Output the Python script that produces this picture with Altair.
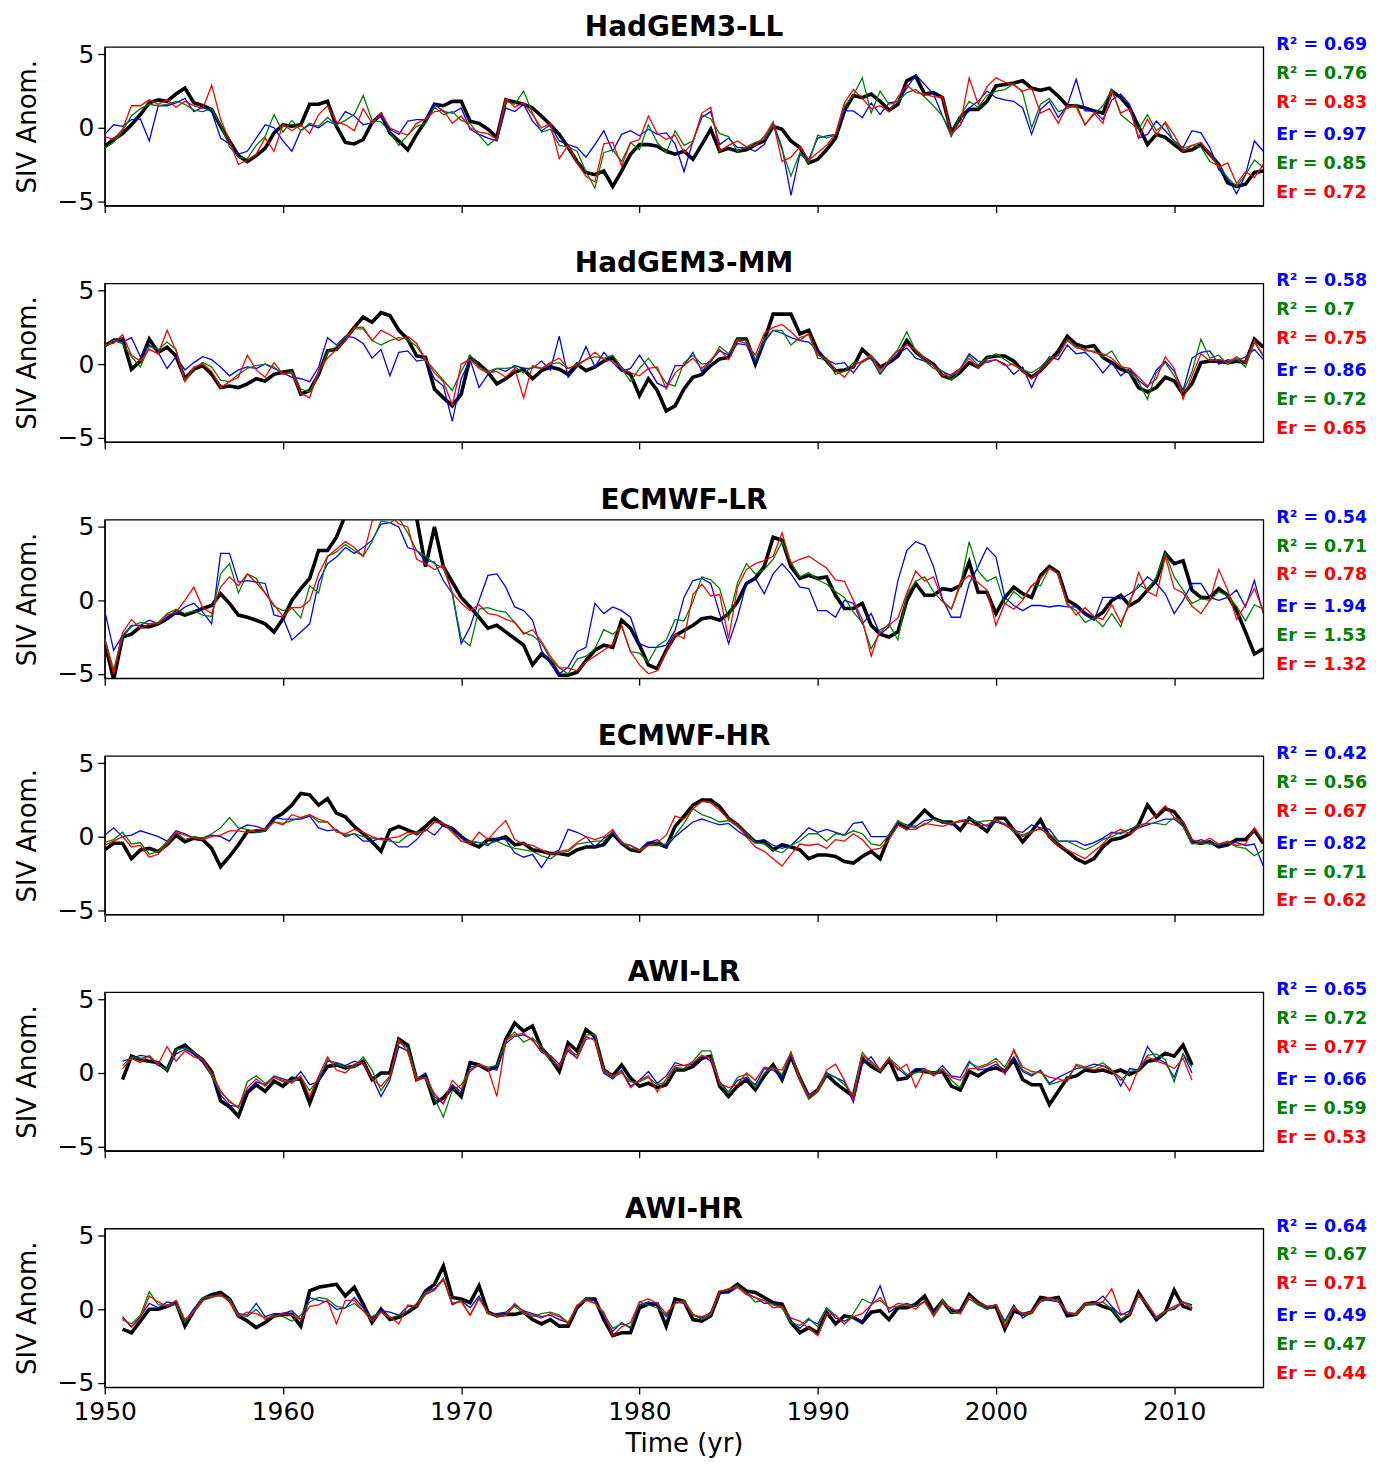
import sys
import altair as alt
import pandas as pd

FONT = "DejaVu Sans"

TITLES = ["HadGEM3-LL", "HadGEM3-MM", "ECMWF-LR", "ECMWF-HR", "AWI-LR", "AWI-HR"]
STARTS = [1950.0, 1950.0, 1950.0, 1950.0, 1951.0, 1951.0]
STEP = 0.5
XTICKS = [1950, 1960, 1970, 1980, 1990, 2000, 2010]
YTICKS = [-5, 0, 5]

R2_BLUE = [0.69, 0.58, 0.54, 0.42, 0.65, 0.64]
R2_GREEN = [0.76, 0.7, 0.71, 0.56, 0.72, 0.67]
R2_RED = [0.83, 0.75, 0.78, 0.67, 0.77, 0.71]
ER_BLUE = [0.97, 0.86, 1.94, 0.82, 0.66, 0.49]
ER_GREEN = [0.85, 0.72, 1.53, 0.71, 0.59, 0.47]
ER_RED = [0.72, 0.65, 1.32, 0.62, 0.53, 0.44]

# ---------------- HadGEM3-LL ----------------
P1_OBS = [
    -1.25, -0.8, -0.4, 0.2, 0.9, 1.7, 1.9, 1.8, 2.3, 2.7,
    1.7, 1.5, 1.25, 0.1, -0.9, -1.9, -2.3, -1.9, -1.4, -0.35,
    0.2, 0.1, 0.2, 1.6, 1.6, 1.8, 0.1, -1.0, -1.1, -0.8,
    0.35, 0.9, -0.35, -0.9, -1.5, -0.45, 0.45, 1.6, 1.5, 1.8,
    1.8, 0.45, 0.3, -0.1, -0.65, 1.9, 1.75, 1.6, 1.35, 0.8,
    0.2, -0.45, -1.35, -2.3, -3.05, -3.2, -2.95, -4.0, -2.95, -1.8,
    -1.15, -1.15, -1.25, -1.6, -1.8, -1.6, -2.15, -1.15, -0.1, -1.6,
    -1.4, -1.6, -1.5, -1.15, -0.9, 0.1, -0.1, -0.9, -1.35, -2.4,
    -2.15, -1.5, -0.7, 1.15, 2.2, 2.05, 2.3, 1.8, 1.2, 1.6,
    3.2, 3.5, 2.3, 2.4, 2.05, -0.35, 0.7, 1.25, 1.25, 1.8,
    2.85, 2.95, 3.05, 3.2, 2.7, 2.55, 2.7, 2.15, 1.5, 1.5,
    1.35, 1.15, 1.0, 2.5, 2.05, 1.35, 0.1, -1.15, -0.45, -0.65,
    -1.15, -1.6, -1.5, -1.15, -1.8, -2.5, -3.75, -4.0, -3.85, -3.05,
    -2.95]
P1_BLUE = [
    -0.45, 0.2, 0.1, 0.55, 0.6, -0.9, 1.5, 1.5, 1.7, 2.0,
    1.1, 1.4, 1.1, -0.7, -1.1, -1.8, -1.6, -0.7, 0.2, 0.0,
    -0.9, -1.6, -0.2, 0.2, 0.0, 0.45, 0.2, 1.1, 0.8, 0.2,
    0.35, 0.8, -0.1, -0.45, 0.45, 0.55, 0.55, 1.6, 1.1, 1.0,
    1.35, -0.1, -0.45, -0.7, -0.9, 1.35, 1.1, 1.6, 0.45, -0.2,
    0.2, -0.9, -1.15, -1.35, -2.0, -1.15, -0.2, -1.6, -0.45, -0.2,
    -0.55, -0.1, -0.45, -0.35, -1.1, -3.0, -0.9, 0.7, 1.1, -1.15,
    -0.7, -1.35, -1.35, -1.6, -1.15, 0.35, -1.35, -4.6, -1.8, -2.15,
    -0.7, -0.55, -0.45, 1.15, 1.15, 0.7, 1.7, 0.9, 1.7, 1.8,
    2.7, 3.6, 2.95, 2.3, 0.8, -0.45, 0.2, 1.35, 1.8, 2.5,
    2.05, 1.9, 1.8, 1.35, -0.45, 1.25, 1.8, 0.7, 1.5, 3.3,
    1.15, 1.15, 0.55, 1.9, 2.3, 1.6, -0.7, -0.45, 0.45, -0.2,
    -0.9, -1.35, -0.2, -0.35, -1.35, -2.85, -3.4, -4.5, -3.2, -0.9,
    -1.6]
P1_GREEN = [
    -1.4, -1.0, -0.2, 0.8, 1.3, 1.6, 1.5, 1.6, 1.8, 1.6,
    1.2, 1.1, 1.3, 0.2, -1.3, -2.0, -2.1, -1.2, -0.6, 0.9,
    -0.3, 0.5, -0.2, 0.3, 0.1, 0.7, 0.2, 0.5, 0.9, 2.2,
    0.5, 0.4, -0.3, -1.2, -0.5, 0.1, 0.3, 1.4, 0.9, 1.1,
    0.5, 0.3, -0.5, -1.2, -0.7, 1.8, 1.6, 2.5, 1.0, -0.3,
    -0.1, -1.2, -1.3, -1.6, -3.0, -4.1, -1.7, -1.5, -2.3, -1.0,
    -1.5, 0.2, -1.0, -1.7, -0.2, -1.2, -0.9, 0.9, 0.6, -0.4,
    -0.6, -1.6, -1.3, -1.0, -0.8, 0.2, -1.5, -3.3, -1.7, -2.4,
    -0.5, -0.7, -0.5, 1.5, 2.2, 3.4, 1.0, 2.5, 1.6, 1.8,
    2.4, 2.6, 2.1, 1.5, 0.8, -0.6, 0.8, 1.8, 1.4, 2.2,
    2.5, 2.6, 3.0, 2.4, 0.0, 1.6, 2.0, 1.1, 1.3, 1.6,
    0.2, 0.9, 1.5, 2.6, 0.9, 0.4, -0.1, 0.9, -0.2, 0.3,
    -1.0, -1.4, -1.2, -1.3, -2.3, -2.6, -3.4, -4.0, -3.2, -2.2,
    -2.7]
P1_RED = [
    -0.6, -0.8, -0.1, 1.5, 1.5, 1.9, 1.6, 1.9, 1.4, 1.8,
    1.5, 1.3, 2.9, 0.6, -0.9, -2.5, -2.2, -1.8, -0.7, -1.6,
    0.2, -0.2, 0.2, -0.4, 0.9, 1.5, 0.4, 0.2, -0.2, 1.3,
    0.3, 1.0, 0.0, -0.3, -0.5, 0.3, 0.6, 1.1, 1.2, 0.3,
    0.8, 0.0, -0.3, -0.4, -0.8, 2.0, 1.4, 1.7, 0.9, 0.0,
    0.3, -2.1, -1.2, -2.4, -3.3, -3.7, -1.1, -1.0, -2.6, -1.0,
    -0.8, 0.8, -0.4, -0.8, -0.5, -1.7, -1.0, 1.0, 1.4, -1.6,
    -1.2, -0.9, -1.3, -1.2, -0.6, 0.4, -2.3, -2.0, -1.3, -2.2,
    -1.7, -1.2, -0.4, 1.7, 2.6, 2.0, 1.3, 1.5, 1.1, 2.1,
    2.9, 2.4, 2.3, 2.1, 2.1, -0.4, 0.2, 3.4, 1.6, 2.8,
    3.4, 3.1, 2.9, 2.5, 2.7, 1.0, 1.3, 0.3, 1.5, 1.4,
    0.2, 1.0, 0.3, 2.5, 1.0, 1.3, -0.7, 0.6, -0.5, 0.4,
    -0.5, -1.6, -1.2, -1.0, -1.8, -2.7, -2.4, -3.8, -3.0, -3.4,
    -2.5]

# ---------------- HadGEM3-MM ----------------
P2_OBS = [
    1.25, 1.6, 1.7, -0.35, 0.2, 1.7, 0.8, 1.15, 0.55, -1.0,
    -0.35, -0.1, -0.7, -1.6, -1.5, -1.6, -1.35, -1.0, -1.15, -0.7,
    -0.55, -0.45, -2.05, -1.8, -0.7, 0.9, 1.0, 1.7, 2.5, 3.2,
    2.85, 3.5, 3.3, 2.3, 1.7, 0.55, 0.45, -1.7, -2.3, -2.85,
    -2.05, 0.45, 0.0, -0.55, -1.35, -1.0, -0.55, -0.35, -1.0, -0.45,
    -0.2, -0.35, -0.7, 0.0, -0.45, -0.2, 0.2, 0.45, -0.35, -0.7,
    -2.15, -1.0, -1.8, -3.2, -2.85, -1.7, -0.9, -0.7, -0.1, 0.35,
    0.45, 1.7, 1.7, 0.0, 1.6, 3.4, 3.4, 3.4, 2.05, 2.3,
    0.9, 0.2, -0.45, -0.4, -0.2, 1.0, 0.45, -0.2, 0.1, 0.55,
    1.6, 0.8, 0.35, 0.0, -0.8, -1.0, -0.55, 0.1, -0.2, 0.45,
    0.55, 0.55, 0.2, -0.45, -0.9, -0.45, 0.2, 0.9, 1.9, 1.35,
    1.15, 1.25, 0.45, 0.1, -0.35, -0.55, -1.6, -1.9, -1.6, -0.9,
    -1.15, -2.05, -1.35, 0.1, 0.2, 0.2, 0.1, 0.2, 0.1, 1.7,
    1.15]
P2_BLUE = [
    1.1, 1.7, 1.5, 1.8, 0.5, 1.3, 0.8, -0.3, 0.5, -0.4,
    0.1, 0.5, 0.3, -0.2, -0.8, -0.4, -0.2, -0.3, 0.0, -0.3,
    -0.6, -0.9, -1.0, -1.2, -0.2, 1.8, 1.3, 1.9, 1.8, 1.4,
    0.4, 1.0, -0.8, 0.8, 0.9, 0.2, 0.3, -1.0, -1.5, -3.9,
    -1.0, 0.3, -1.6, -0.7, -0.3, -0.5, -0.1, -0.3, -0.3, 0.2,
    -0.4, 1.9, -0.9, -0.2, 1.2, -0.2, 0.8, 0.1, -0.5, -0.3,
    0.6, -0.3, -1.3, -1.6, -0.1, -0.1, 0.8, -0.5, 0.2, 0.9,
    0.6, 1.4, 1.3, 0.1, 1.5, 2.3, 2.1, 1.8, 1.6, 1.5,
    0.9, 0.3, 0.0, 0.1, -0.6, 0.2, 0.4, -0.7, 0.1, 0.7,
    1.1, 0.4, 0.2, -0.1, -0.5, -0.8, -0.3, 0.7, 0.2, 0.1,
    0.3, 0.0, -0.7, -0.2, -1.6, -0.3, 0.5, 0.3, 1.3, 0.7,
    0.8, 0.2, -0.6, 0.1, -0.8, -0.3, -1.1, -1.6, -0.4, 0.2,
    -0.5, -1.8, 0.4, 0.8, 0.9, 0.0, 0.3, 0.2, 0.5, 1.0,
    0.3]
P2_GREEN = [
    1.2, 1.6, 1.4, 0.5, -0.2, 1.2, 1.0, 1.5, 1.0, -1.1,
    -0.3, 0.1, -0.2, -1.1, -1.2, -0.7, -0.3, -0.1, 0.0, -0.2,
    -0.7, -0.5, -1.7, -1.9, -0.6, 0.8, 1.2, 1.8, 2.4, 2.4,
    1.6, 1.3, 1.6, 1.8, 1.7, 1.2, 0.3, -0.4, -1.1, -1.8,
    -0.5, 0.6, -0.2, -0.5, -0.3, -0.3, -0.2, -0.6, -0.2, -0.3,
    0.0, 0.1, -0.3, 0.0, 0.3, 0.5, 0.4, 0.6, -0.3, -1.2,
    -0.3, 0.4, -0.4, -1.3, -1.5, 0.1, 0.6, 0.0, 0.1, 1.2,
    0.7, 1.7, 1.6, 0.3, 1.7, 2.3, 2.3, 1.3, 1.8, 2.0,
    0.4, 0.3, -0.7, -0.5, 0.1, 0.1, 0.5, -0.6, 0.3, 1.0,
    2.2, 0.9, 0.2, -0.3, -0.5, -1.1, -0.4, 0.6, -0.1, 0.4,
    0.7, 0.3, -0.1, -0.4, -0.6, -0.2, 0.4, 0.6, 1.7, 1.2,
    0.9, 0.9, 0.5, 0.9, -0.1, -0.6, -1.2, -2.4, -0.6, 0.1,
    -0.8, -1.9, -0.5, 1.7, 0.4, 0.6, 0.0, 0.4, -0.2, 1.5,
    0.5]
P2_RED = [
    1.3, 1.4, 2.0, 0.6, 0.2, 1.0, 0.7, 2.3, 0.9, -1.2,
    -0.2, 0.0, -0.5, -1.6, -1.2, -0.9, 0.6, -0.4, -0.9, 0.1,
    -0.7, -0.6, -2.0, -2.3, -0.4, 0.4, 1.0, 1.6, 2.5, 2.5,
    1.6, 2.3, 2.0, 1.6, 1.9, 1.4, 0.3, -0.6, -1.2, -2.8,
    0.0, 0.3, -0.3, -0.6, -0.5, -0.9, -0.3, -2.3, -0.1, -0.3,
    0.1, 0.4, -0.3, -0.1, 0.3, 0.8, 0.3, 0.2, -0.3, -0.6,
    -0.8, -0.3, -0.2, -1.7, -0.6, -0.1, 0.4, -0.3, 0.3, 1.0,
    0.3, 1.6, 1.4, 0.6, 2.1, 2.5, 2.7, 2.2, 1.6, 2.1,
    0.6, 0.4, -0.4, -0.9, -0.1, 0.2, 0.6, -0.4, 0.2, 0.9,
    1.3, 1.0, 0.4, -0.1, -0.8, -0.7, -0.3, 0.4, -0.3, 0.2,
    0.3, -0.1, 0.0, -0.5, -1.0, -0.4, 0.2, 0.6, 1.6, 1.1,
    1.0, 0.8, 0.7, 0.4, -0.2, -0.3, -0.9, -1.5, -1.0, 0.5,
    -0.3, -2.4, -0.8, 0.7, 0.2, 0.3, 0.1, 0.5, 0.1, 1.6,
    0.6]

# ---------------- ECMWF-LR ----------------
P3_OBS = [
    -2.85, -5.4, -2.5, -2.3, -1.8, -1.8, -1.6, -1.25, -0.8, -1.0,
    -0.8, -0.55, -0.35, 0.45, -0.2, -1.0, -1.15, -1.35, -1.6, -2.15,
    -1.25, 0.0, 0.8, 1.5, 3.4, 3.4, 4.3, 5.8, 6.0, 6.3,
    6.5, 6.4, 6.2, 6.3, 6.0, 5.6, 2.3, 5.0, 2.3, 1.25,
    0.2, -0.45, -1.15, -1.9, -1.7, -2.15, -2.6, -3.05, -4.4, -3.65,
    -4.1, -5.1, -5.1, -4.9, -4.1, -3.4, -3.05, -3.2, -1.35, -1.9,
    -3.05, -4.4, -4.65, -3.4, -2.4, -2.05, -1.7, -1.25, -1.15, -1.35,
    -0.9, -0.1, 1.15, 1.5, 2.3, 4.3, 4.1, 2.3, 1.5, 1.7,
    1.5, 1.6, 0.35, -0.55, -0.55, -0.2, -1.7, -2.3, -2.5, -2.15,
    0.0, 1.15, 0.35, 0.35, 0.8, 0.7, 1.0, 2.6, 0.55, 0.55,
    -0.9, 0.2, 0.9, 0.45, 0.2, 1.7, 2.3, 1.9, 0.0, -0.35,
    -0.9, -1.25, -0.8, 0.0, 0.35, -0.35, 0.0, 0.7, 1.35, 3.2,
    2.5, 2.7, 0.7, 0.2, 0.2, 0.8, 0.35, -0.7, -2.15, -3.65,
    -3.3]
P3_BLUE = [
    -0.7, -3.4, -2.4, -1.7, -1.7, -1.35, -1.6, -1.15, -0.9, -0.45,
    -0.2, -0.8, -1.6, 3.2, 3.2, 1.25, 1.35, 1.25, 1.15, -1.0,
    -1.15, -2.7, -2.15, -1.6, 1.25, 2.5, 2.95, 3.6, 3.2, 3.6,
    4.1, 5.2, 5.3, 5.0, 3.6, 3.4, 2.7, 2.6, 1.35, 0.45,
    -2.95, -1.8, 0.0, 1.7, 1.8, 0.9, -0.45, -0.7, -1.35, -3.4,
    -4.3, -5.0, -4.55, -3.5, -3.2, -0.2, -0.9, -0.45, -0.7, -1.15,
    -2.95, -3.2, -3.2, -3.05, -2.05, 0.2, 1.35, 1.5, 1.15, -0.9,
    -2.95, -1.15, 1.15, 1.5, 0.45, 1.8, 2.5, 1.8, 0.9, 0.8,
    -0.7, -0.7, -1.15, 0.0, -0.2, -1.6, -0.9, -2.3, -1.8, 1.35,
    3.4, 4.0, 3.75, 2.3, 0.1, -1.15, -1.15, 1.15, 2.3, 3.6,
    2.95, 0.2, -0.35, -0.7, -0.35, -0.35, -0.45, -0.35, -0.45, -0.45,
    -1.0, -1.35, 0.2, 0.2, 0.1, 0.45, 0.9, 1.6, 1.15, 0.45,
    -0.9, 0.0, 1.15, 1.15, 0.2, 0.0, 0.2, 0.7, -0.45, 1.35,
    -0.9]
P3_GREEN = [
    -2.6, -4.7, -2.5, -1.8, -1.5, -1.6, -1.5, -0.9, -0.6, -0.9,
    -0.7, -1.0, -1.1, 1.8, 2.5, 0.5, 1.8, 1.5, 0.5, -0.4,
    -0.7, -0.5, -1.2, 1.0, 0.5, 3.0, 3.3, 3.8, 3.4, 3.0,
    4.0, 5.4, 5.3, 5.6, 4.6, 3.4, 3.0, 2.5, 2.2, 0.5,
    -2.6, -3.1, -0.6, -0.5, -0.7, -0.8, -1.5, -2.2, -2.4, -2.9,
    -4.0, -4.6, -5.0, -4.0, -3.8, -3.3, -2.0, -2.3, -1.8, -3.5,
    -3.6, -4.2, -3.1, -2.7, -1.3, -1.4, -0.1, 1.6, 1.4, 0.8,
    -1.3, 1.2, 2.5, 1.8, 2.1, 2.8, 4.0, 2.6, 1.6, 1.9,
    1.4, 1.1, 0.6, 0.2, -0.8, -1.5, -3.3, -2.2, -1.6, -2.7,
    0.4, 1.3, 1.6, 0.6, -0.1, -0.6, 1.0, 4.0, 2.0, 1.3,
    1.6, -0.3, 0.6, 0.1, 1.0, 1.0, 2.2, 1.8, -0.3, -0.7,
    -1.5, -1.2, -1.8, -0.9, -1.8, 0.0, 1.1, 0.7, 1.6, 3.2,
    1.6, 0.7, -0.2, 0.1, 0.0, 0.6, 0.3, -0.4, -1.4, -0.3,
    -0.6]
P3_RED = [
    -2.7, -5.0, -2.2, -1.3, -1.9, -1.6, -1.6, -1.0, -0.8, 0.0,
    0.9, -0.5, -0.9, 0.9, 1.6, 1.0, 1.8, 1.2, 0.5, -0.3,
    -1.1, -0.5, -0.5, 0.0, 1.8, 3.0, 3.5, 4.0, 3.6, 3.0,
    5.4, 5.8, 5.8, 5.2, 5.0, 2.8, 2.5, 2.1, 2.4, 0.5,
    -0.2, -0.7, -0.3, -0.9, -1.0, -1.3, -1.5, -2.3, -2.0, -2.8,
    -3.8, -4.6, -4.6, -4.8, -4.2, -3.8, -3.4, -3.0, -1.7, -3.5,
    -4.4, -5.0, -4.8, -3.5, -2.3, -2.6, 0.4, 1.1, 0.3, 0.4,
    -2.6, 0.9, 2.1, 2.5, 2.7, 3.0, 4.6, 2.5, 2.8, 3.0,
    2.6, 2.2, 1.4, 1.3, 0.0, -1.3, -3.8, -2.0, -1.7, -1.2,
    0.5, 2.0, 1.3, 1.6, 0.0, -0.6, 1.2, 1.7, 1.2, 0.7,
    -1.7, -0.2, -0.6, 0.0, 1.0, 1.5, 2.2, 1.8, -0.2, -1.0,
    -0.5, -1.1, -1.3, -0.3, -1.5, -0.3, 1.9, 0.6, 0.3, 3.0,
    0.8, 0.5, -0.4, -0.9, 0.0, 2.1, 0.7, -1.3, -0.3, 0.8,
    -0.7]

# ---------------- ECMWF-HR ----------------
P4_OBS = [
    -0.9, -0.45, -0.45, -1.5, -0.9, -0.8, -1.0, -0.55, 0.1, -0.35,
    -0.1, -0.2, -0.8, -2.05, -1.35, -0.55, 0.35, 0.35, 0.45, 1.25,
    1.6, 2.15, 2.95, 2.85, 2.15, 2.6, 1.6, 1.35, 0.7, 0.2,
    -0.35, -1.0, 0.45, 0.7, 0.45, 0.2, 0.7, 1.25, 0.8, 0.55,
    0.0, -0.45, -0.7, -0.2, -0.2, 0.0, -0.55, -0.45, -0.9, -1.0,
    -1.15, -1.15, -1.25, -0.9, -0.7, -0.7, -0.55, 0.2, -0.45, -0.9,
    -1.0, -0.45, -0.45, -0.7, 0.7, 1.4, 2.15, 2.5, 2.5, 2.05,
    1.25, 0.8, 0.2, -0.35, -0.35, -0.9, -0.55, -0.7, -0.9, -1.5,
    -1.25, -1.25, -1.35, -1.7, -1.8, -1.35, -1.0, -1.5, 0.0, 0.9,
    0.55, 1.15, 1.8, 1.25, 1.0, 1.0, 0.45, 1.25, 0.8, 0.35,
    1.25, 1.25, 0.45, -0.35, 0.35, 1.15, 0.0, -0.55, -1.0, -1.5,
    -1.8, -1.5, -0.7, -0.2, -0.1, 0.2, 0.8, 2.15, 1.35, 1.9,
    1.7, 0.9, -0.35, -0.45, -0.35, -0.7, -0.55, -0.2, -0.2, 0.45,
    -0.45]
P4_BLUE = [
    0.1, 0.6, 0.0, 0.1, 0.4, 0.2, 0.0, -0.3, 0.4, 0.2,
    -0.1, -0.1, 0.1, 0.0, -0.3, 0.5, 0.8, 0.7, 0.5, 1.3,
    1.2, 1.2, 1.2, 1.4, 0.6, 0.4, 0.5, 0.0, 0.2, -0.3,
    -0.3, -0.1, -0.2, -0.7, -0.7, -0.2, 0.5, 0.1, 0.8, 0.6,
    0.0, -0.3, -0.4, -0.6, -0.1, -0.2, -1.1, -1.4, -1.2, -2.1,
    -1.2, -0.9, 0.5, 0.3, 0.0, -0.7, -0.1, 0.3, -0.5, -0.6,
    -0.9, -0.4, -0.2, -0.7, 0.0, 0.5, 1.0, 1.2, 1.0, 0.8,
    0.9, 0.4, 0.0, -0.3, -0.2, -0.6, -0.8, -0.6, 0.0, 0.6,
    0.3, 0.5, 0.3, 0.1, 0.9, 1.0, 0.0, 0.0, 0.0, 1.0,
    0.8, 0.7, 1.1, 1.2, 1.0, 0.8, 1.1, 1.2, 1.0, 0.7,
    1.0, 0.8, 0.4, 0.3, 0.8, 0.6, 0.5, -0.3, -0.3, -0.3,
    -0.6, -0.4, -0.1, 0.3, 0.2, 0.5, 0.6, 0.8, 1.0, 1.2,
    1.2, 0.7, -0.4, -0.2, -0.4, -0.6, -0.4, -0.4, -0.6, -0.5,
    -2.0]
P4_GREEN = [
    -0.4, -0.2, 0.3, -0.5, -0.4, -1.2, -1.0, -0.3, 0.3, -0.2,
    0.0, -0.1, 0.2, 0.6, 1.3, 0.6, 0.5, 0.3, 0.4, 1.0,
    0.9, 1.1, 1.3, 1.5, 1.0, 1.0, 0.4, 0.1, 0.2, 0.0,
    -0.1, -0.2, -0.3, -0.4, 0.1, 0.3, 0.4, 1.0, 0.9, 0.3,
    -0.3, -0.3, -0.4, -0.5, -0.3, -0.6, -0.8, -0.9, -1.0, -1.3,
    -1.5, -1.1, -1.0, -0.5, -0.4, -0.3, -0.3, 0.4, -0.4, -0.8,
    -0.9, -0.6, -0.6, -0.5, 0.1, 0.9, 1.9, 1.5, 1.3, 1.0,
    1.1, 0.7, 0.2, -0.4, -0.5, -0.9, -1.1, -0.6, -0.3, 0.2,
    0.2, -0.3, 0.2, 0.1, 0.4, 0.2, -0.5, -0.6, 0.1, 1.1,
    0.7, 0.6, 0.8, 1.2, 1.0, 0.9, 1.0, 1.2, 1.0, 1.1,
    1.1, 0.9, 0.3, 0.1, 0.4, 0.5, 0.2, -0.3, -0.3, -0.6,
    -0.9, -0.6, -0.2, 0.0, 0.3, 0.5, 0.8, 0.9, 0.9, 0.8,
    1.3, 0.7, -0.5, -0.4, -0.5, -0.5, -0.4, -0.7, -0.8, -1.3,
    -0.9]
P4_RED = [
    -0.6, -0.3, 0.0, -0.7, -0.6, -1.4, -1.2, -0.5, 0.3, 0.1,
    -0.1, -0.2, 0.0, 0.1, 0.4, 0.4, 0.3, 0.5, 0.5, 1.0,
    0.8, 1.5, 1.3, 1.5, 1.2, 1.0, 0.3, 0.2, 0.5, 0.3,
    0.0, -0.2, -0.1, 0.0, 0.3, 0.2, 0.4, 1.0, 0.9, 0.3,
    -0.3, -0.5, 0.3, -0.2, 0.5, 1.1, -0.2, -0.5, -0.6, -0.9,
    -1.2, -1.0, -0.9, -0.4, 0.0, -0.2, 0.0, 0.5, -0.4, -0.6,
    -1.0, -0.6, -0.4, 0.1, 1.4, 1.2, 1.9, 2.4, 2.3, 1.8,
    1.2, 0.8, 0.0, -0.7, -1.0, -1.5, -2.0, -1.2, -0.5, -0.6,
    -0.5, -0.8, -0.2, -0.3, 0.2, -0.2, -0.9, -0.8, -0.2, 0.8,
    0.5, 0.5, 0.9, 0.8, 0.7, 0.9, 1.1, 0.9, 0.7, 0.8,
    1.2, 0.8, 0.5, 0.0, 0.3, 0.6, 0.0, -0.6, -0.9, -1.2,
    -1.5, -1.0, -0.5, 0.2, 0.5, 0.2, 0.6, 1.0, 1.5, 2.1,
    1.3, 1.0, -0.2, -0.4, -0.1, -0.5, -0.3, -0.6, -0.5, 0.6,
    -0.3]

# ---------------- AWI-LR (1951-2011) ----------------
P5_OBS = [
    -0.45, 1.15, 0.9, 0.8, 0.7, 0.2, 1.6, 1.9, 1.35, 0.9,
    0.1, -1.9, -2.3, -2.95, -1.35, -0.8, -1.25, -0.55, -0.9, -0.35,
    -0.45, -2.05, -0.45, 0.45, 0.55, 0.35, 0.45, 0.8, -0.45, 0.0,
    0.0, 2.3, 1.9, -0.45, -0.2, -2.05, -1.7, -1.0, -1.6, 0.7,
    0.55, 0.2, 0.45, 2.3, 3.4, 2.85, 3.2, 1.7, 1.0, 0.1,
    2.05, 1.5, 2.95, 2.5, 0.2, -0.2, 0.55, -0.35, -0.9, -0.7,
    -1.0, -0.8, 0.2, 0.2, 0.45, 1.0, 1.15, -0.9, -1.6, -0.9,
    -0.45, -1.15, -0.2, 0.55, -0.45, 1.15, -0.35, -1.6, -1.15, -0.1,
    -0.7, -1.15, -1.6, 1.0, 0.45, 0.1, 0.9, -0.45, -0.35, 0.2,
    0.1, 0.0, 0.1, -0.9, -1.15, 0.1, -0.2, 0.2, 0.35, 0.1,
    0.9, -0.45, -0.8, -0.8, -2.15, -1.25, -0.35, -0.2, 0.2, 0.1,
    0.2, 0.0, 0.2, -0.1, 0.2, 0.8, 0.9, 1.35, 1.15, 1.9,
    0.55]
P5_BLUE = [
    0.8, 1.0, 1.2, 1.1, 0.5, 0.3, 1.3, 1.6, 1.3, 0.7,
    -0.2, -1.5, -2.2, -2.3, -1.2, -0.6, -0.8, -0.2, -0.4, -0.6,
    0.1, -0.8, -0.6, 0.8, 0.7, 0.5, 0.8, 0.6, -0.3, -1.6,
    -0.5, 1.8, 1.5, -0.4, 0.0, -1.6, -2.1, -0.8, -1.3, 0.4,
    0.5, 0.3, 0.2, 2.0, 2.5, 2.6, 2.3, 1.4, 1.2, 0.6,
    1.5, 1.0, 2.3, 2.4, 0.0, -0.4, 0.2, -0.9, -0.5, 0.1,
    -0.7, -0.2, 0.7, 0.5, 0.6, 1.2, 0.8, -0.6, -1.3, -0.5,
    -0.3, -0.8, 0.3, 0.2, -0.3, 1.2, -0.5, -1.5, -1.2, 0.0,
    -0.3, -0.6, -2.0, 0.6, 1.1, 0.2, 0.9, 0.3, -0.2, 0.3,
    0.3, -0.1, 0.5, -0.2, -0.3, 0.8, 0.2, 0.3, 0.6, 0.2,
    1.1, 0.1, -0.2, 0.2, -0.7, -0.3, 0.0, 0.3, 0.4, 0.6,
    0.5, 0.2, -0.9, 0.3, 0.2, 1.8, 1.0, 0.7, -0.3, 1.3,
    0.0]
P5_GREEN = [
    0.5, 1.1, 1.0, 1.1, 0.6, 0.2, 1.6, 1.7, 1.4, 0.9,
    -0.2, -1.3, -1.9, -2.4, -0.6, -0.2, -0.7, -0.3, -0.6, -0.5,
    -0.3, -1.2, -0.4, 0.9, 0.6, 0.4, 0.4, 1.1, 0.2, -1.2,
    -0.3, 2.1, 1.7, -0.3, -0.4, -1.7, -3.0, -1.2, -0.8, 0.2,
    0.6, 0.4, 0.5, 2.2, 2.8, 2.1, 2.4, 1.8, 0.8, 0.5,
    1.6, 1.2, 2.6, 2.6, 0.1, -0.3, 0.0, -0.6, -0.6, -0.3,
    -0.8, -0.6, 0.4, 0.3, 0.8, 1.5, 1.5, -0.8, -1.3, -0.3,
    -0.1, -1.0, 0.0, 0.4, -0.1, 1.4, -0.3, -1.8, -1.3, -0.1,
    -0.3, -0.8, -1.5, 1.4, 0.7, 0.1, 1.0, 0.5, -0.1, 0.0,
    0.2, 0.0, 0.3, -0.5, -1.0, 0.7, 0.4, 0.6, 1.0, 0.4,
    1.5, 0.2, -0.1, 0.1, -0.8, -0.6, -0.4, 0.5, 0.3, 0.4,
    0.7, 0.2, -0.5, 0.1, 0.2, 1.2, 1.3, 0.9, -0.6, 1.3,
    0.4]
P5_RED = [
    0.3, 1.0, 0.7, 1.2, 0.6, 1.8, 0.8, 1.5, 1.1, 0.9,
    0.0, -1.2, -2.0, -2.3, -1.0, -0.4, -0.9, -0.3, -0.5, -0.7,
    -0.2, -1.6, -0.2, 1.1, 0.2, 0.0, 0.6, 0.7, -0.4, -0.9,
    -0.2, 2.3, 1.4, -0.5, -0.3, -1.4, -2.1, -0.5, -1.1, 0.1,
    0.6, 0.3, -1.6, 2.2, 2.6, 2.7, 2.2, 1.5, 1.1, 0.4,
    1.8, 1.0, 2.5, 2.2, 0.2, -0.2, 0.1, -1.0, -0.5, -0.2,
    -1.3, -0.4, 0.5, 0.5, 0.7, 1.2, 1.0, -0.7, -1.0, -0.8,
    0.0, -0.5, 0.4, 0.3, 0.2, 1.4, -0.5, -1.6, -1.2, 0.2,
    0.6, -0.5, -1.8, 1.2, 0.8, 0.2, 1.0, 0.2, 0.6, -1.0,
    0.2, -0.2, 0.2, -0.3, -0.5, 0.3, 0.3, 0.5, 0.8, -0.1,
    1.6, 0.4, 0.1, 0.0, -0.3, -0.4, -0.6, 0.6, 0.4, 0.2,
    0.5, 0.1, -0.3, -1.2, 0.3, 1.1, 0.8, 0.6, 0.3, 1.0,
    -0.5]

# ---------------- AWI-HR (1951-2011) ----------------
P6_OBS = [
    -1.35, -1.6, -0.8, 0.0, 0.0, 0.2, 0.45, -1.15, -0.1, 0.7,
    1.0, 1.15, 0.7, -0.45, -0.8, -1.25, -0.9, -0.45, -0.35, -0.35,
    -1.15, 1.25, 1.5, 1.6, 1.7, 0.9, 1.5, 0.35, -0.9, 0.0,
    -0.7, -0.55, -0.2, 0.2, 1.25, 1.7, 2.95, 0.8, 0.7, 0.45,
    1.6, -0.2, -0.45, -0.35, -0.35, -0.2, -0.7, -1.0, -0.7, -1.15,
    -1.15, 0.1, 0.7, 0.7, -0.7, -1.8, -1.6, -1.6, 0.1, 0.35,
    0.35, -1.15, 0.7, 0.55, -0.7, -0.8, -0.45, 1.15, 1.25, 1.7,
    1.25, 1.15, 0.8, 0.45, 0.35, -0.9, -1.6, -1.25, -1.6, -0.2,
    -1.0, -0.45, -0.55, -0.9, -0.2, -0.1, -0.7, 0.1, 0.1, 0.35,
    0.9, -0.2, 0.55, -0.2, -0.1, 1.0, 0.45, 0.1, 0.2, -1.35,
    -0.1, -0.35, -0.2, 0.8, 0.7, 0.8, -0.45, -0.35, 0.35, 0.45,
    0.2, 0.0, -0.8, -0.35, 1.15, 0.2, -0.7, -0.2, 1.3, 0.2,
    0.0]
P6_BLUE = [
    -0.5, -1.2, -0.5, 0.4, 0.1, 0.5, 0.4, -0.8, 0.0, 0.7,
    0.9, 1.0, 0.6, -0.3, -0.4, 0.4, -0.5, -0.3, -0.3, -0.1,
    -0.7, 0.8, 0.6, 0.5, 0.0, 0.1, 0.8, 0.1, -0.6, -0.1,
    -0.2, -0.4, 0.2, 0.2, 1.2, 1.4, 2.1, 0.3, 0.6, 0.1,
    0.9, -0.3, -0.3, -0.2, 0.3, -0.1, -0.3, -0.5, -0.4, -0.7,
    -0.9, 0.1, 0.7, 0.6, -0.5, -1.5, -0.9, -1.3, 0.3, 0.5,
    0.3, -0.5, 0.5, 0.4, -0.4, -0.6, -0.2, 1.1, 1.1, 1.5,
    1.1, 0.8, 0.4, 0.4, 0.1, -0.8, -1.3, -0.7, -1.0, 0.1,
    -0.6, -0.8, -0.5, -0.8, 0.3, 1.6, -0.2, 0.2, 0.4, 0.2,
    0.5, -0.3, 0.5, 0.0, -0.2, 0.9, 0.3, 0.1, 0.3, -0.8,
    0.3, -0.6, -0.2, 0.6, 0.6, 0.5, -0.3, -0.4, 0.4, 0.4,
    0.9, 0.2, -0.4, -0.1, 0.9, 0.3, -0.7, -0.1, 0.0, 0.5,
    0.3]
P6_GREEN = [
    -0.7, -1.0, -0.4, 1.2, 0.3, 0.3, 0.3, -0.9, -0.1, 0.8,
    0.9, 0.9, 0.7, -0.4, -0.5, 0.0, -0.7, -0.4, -0.5, -0.8,
    -0.4, 0.5, 0.8, 0.7, 0.2, 0.1, 0.4, -0.1, -0.5, -0.2,
    -0.6, -0.4, -0.1, 0.4, 1.1, 1.3, 2.1, 0.4, 0.6, -0.4,
    0.8, -0.3, -0.4, -0.4, 0.2, -0.3, -0.5, -0.3, -0.2, -0.4,
    -0.9, 0.2, 0.8, 0.4, -0.3, -1.3, -1.0, -1.2, 0.5, 0.3,
    0.1, -0.4, 0.4, 0.6, -0.3, -0.7, -0.4, 1.2, 1.3, 1.6,
    1.1, 0.5, 0.6, 0.3, 0.1, -0.9, -1.1, -0.6, -1.2, 0.1,
    -0.4, -1.0, -0.3, 0.7, 0.4, 0.6, 0.1, 0.2, 0.3, 0.2,
    0.5, -0.4, 0.6, -0.2, -0.3, 0.7, 0.3, 0.0, 0.3, -0.9,
    0.2, -0.4, -0.3, 0.5, 0.7, 0.6, -0.2, -0.4, 0.3, 0.3,
    0.5, 0.0, -0.7, -0.3, 0.9, 0.4, -0.6, -0.2, 0.1, 0.5,
    0.2]
P6_RED = [
    -0.6, -1.2, -0.6, 0.9, 0.5, 0.2, 0.6, -0.7, -0.2, 0.6,
    0.8, 1.0, 0.5, -0.5, -0.2, -0.3, -0.6, -0.5, -0.3, -0.4,
    -0.7, 0.2, 0.3, 0.6, -1.0, 0.6, 0.6, -0.1, -0.8, -0.2,
    -0.5, -1.0, 0.3, 0.2, 1.0, 1.3, 2.0, 0.4, 0.5, -0.4,
    0.7, -0.2, -0.5, -0.4, 0.4, -0.2, -0.4, -0.6, -0.3, -0.5,
    -1.0, 0.3, 0.6, 0.4, -0.2, -1.8, -1.2, -0.9, 0.5, 0.7,
    0.4, -0.3, 0.4, 0.5, -0.4, -0.5, -0.3, 1.2, 1.4, 1.5,
    1.0, 0.8, 0.6, 0.1, 0.2, -0.6, -0.8, -1.3, -1.8, -0.3,
    -0.4, -1.0, -0.5, -0.3, 0.3, 0.8, 0.0, 0.4, 0.3, 0.0,
    0.6, -0.5, 0.4, 0.1, -0.3, 0.9, 0.4, 0.2, 0.3, -1.2,
    0.1, -0.3, -0.2, 0.6, 0.8, 0.5, -0.2, -0.3, 0.4, 0.4,
    0.5, 1.4, -0.3, -0.4, 1.0, 0.3, -0.5, -0.1, 0.2, 0.5,
    0.0]

OBS = [P1_OBS, P2_OBS, P3_OBS, P4_OBS, P5_OBS, P6_OBS]
BLUE = [P1_BLUE, P2_BLUE, P3_BLUE, P4_BLUE, P5_BLUE, P6_BLUE]
GREEN = [P1_GREEN, P2_GREEN, P3_GREEN, P4_GREEN, P5_GREEN, P6_GREEN]
RED = [P1_RED, P2_RED, P3_RED, P4_RED, P5_RED, P6_RED]

C_BLUE, C_GREEN, C_RED = "#0000ff", "#008000", "#ff0000"

PW, PH = 1162, 159
TEXT_X = 1175
TEXT_Y = [-2, 27, 56, 88, 117, 146]


def frame(start, vals):
    return pd.DataFrame({"year": [start + STEP * i for i in range(len(vals))],
                         "value": vals})


def panel(i, bottom):
    if bottom:
        xaxis = alt.Axis(values=XTICKS, format="d", title="Time (yr)", labelFontSize=25,
                         titleFontSize=26, titleFontWeight="normal", tickSize=7,
                         labelPadding=6, titlePadding=6, labelFlush=False, grid=False)
    else:
        xaxis = alt.Axis(values=XTICKS, labels=False, title=None, tickSize=7, grid=False)
    yaxis = alt.Axis(values=YTICKS, title="SIV Anom.", labelFontSize=25, titleFontSize=26,
                     titleFontWeight="normal", tickSize=7, labelPadding=4, titlePadding=17,
                     labelFlush=False, grid=False)
    xs = alt.Scale(domain=[1950, 2015], nice=False, zero=False)
    ys = alt.Scale(domain=[-5.3, 5.5], nice=False, zero=False)
    layers = []
    for vals, color, w in [(OBS[i], "black", 3.6), (BLUE[i], C_BLUE, 1.3),
                           (GREEN[i], C_GREEN, 1.3), (RED[i], C_RED, 1.3)]:
        if len(vals) != (131 if STARTS[i] == 1950.0 else 121):
            print("length mismatch", TITLES[i], color, len(vals), file=sys.stderr)
        layers.append(
            alt.Chart(frame(STARTS[i], vals)).mark_line(color=color, strokeWidth=w, clip=True)
            .encode(x=alt.X("year:Q", scale=xs, axis=xaxis),
                    y=alt.Y("value:Q", scale=ys, axis=yaxis))
        )
    labels = [("R² = " + str(R2_BLUE[i]), C_BLUE), ("R² = " + str(R2_GREEN[i]), C_GREEN),
              ("R² = " + str(R2_RED[i]), C_RED), ("Er = " + str(ER_BLUE[i]), C_BLUE),
              ("Er = " + str(ER_GREEN[i]), C_GREEN), ("Er = " + str(ER_RED[i]), C_RED)]
    for k, (txt, col) in enumerate(labels):
        layers.append(
            alt.Chart(pd.DataFrame({"t": [txt]})).mark_text(
                align="left", baseline="middle", font=FONT, fontSize=17.5,
                fontWeight="bold", color=col)
            .encode(text="t:N", x=alt.value(TEXT_X), y=alt.value(TEXT_Y[k]))
        )
    return alt.layer(*layers).properties(
        width=PW, height=PH,
        title=alt.TitleParams(TITLES[i], fontSize=28, fontWeight="bold", font=FONT,
                              anchor="middle", offset=-6, frame="group", color="black"))


chart = alt.vconcat(*[panel(i, i == 5) for i in range(6)], spacing=34).configure(
    font=FONT, padding={"top": 3, "left": 5, "right": 0, "bottom": 0}
).configure_view(stroke="black", strokeWidth=1.3).configure_axis(
    domainColor="black", tickColor="black", labelColor="black", titleColor="black",
    labelFont=FONT, titleFont=FONT, domainWidth=1.3, tickWidth=1.3
)

chart.save("out.html", embed_options={"renderer": "svg", "actions": False})
